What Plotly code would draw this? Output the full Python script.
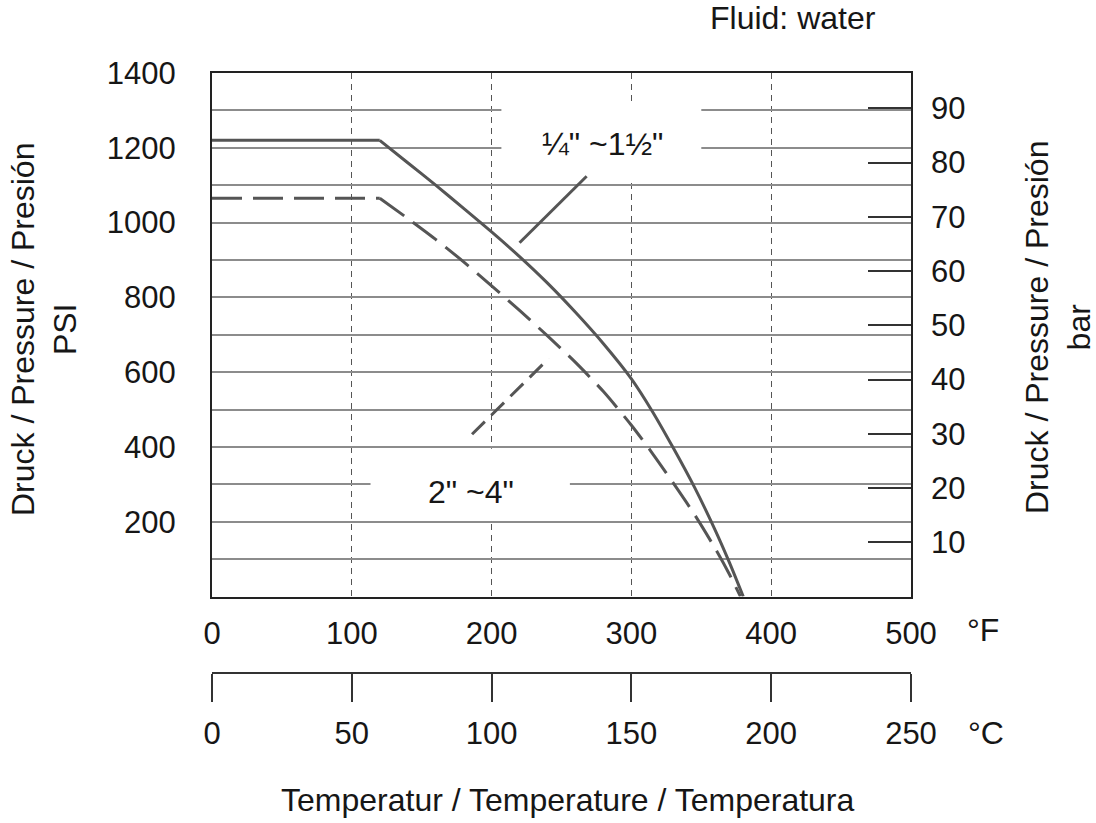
import plotly.graph_objects as go

# Pressure/temperature rating, temperature in °F, pressure in PSI
small_temp_f = [0, 120, 140, 160, 180, 200, 220, 240, 260, 280, 300, 315, 330, 345, 360, 370, 380]
small_psi = [1220, 1220, 1160, 1100, 1038, 975, 909, 838, 760, 676, 582, 495, 397, 293, 177, 92, 0]

large_temp_f = [0, 120, 140, 160, 180, 200, 220, 240, 260, 280, 300, 315, 330, 345, 360, 370, 378]
large_psi = [1065, 1065, 1011, 955, 895, 831, 765, 697, 626, 548, 458, 383, 303, 220, 128, 60, 0]

# leader lines from the size labels to the curves
small_leader_f = [220, 268]
small_leader_psi = [946, 1124]
large_leader_f = [186, 241]
large_leader_psi = [434, 637]

small_label = "¼\" ~1½\""
large_label = "2\" ~4\""
small_label_pos = (279.6, 1210)
large_label_pos = (185.6, 280)

# axis ticks
f_ticks = [0, 100, 200, 300, 400, 500]
c_ticks = [0, 50, 100, 150, 200, 250]
psi_ticks = list(range(0, 1401, 100))
psi_text = [str(v) if v % 200 == 0 and v > 0 else "" for v in psi_ticks]
bar_ticks = [10, 20, 30, 40, 50, 60, 70, 80, 90]
PSI_PER_BAR = 14.5038
PSI_MAX = 1400

FONT = "Liberation Sans, Arial, Helvetica, sans-serif"
TXT = "#161616"
CURVE = "#555555"
FS = 32
TICK_FS = 31

W, H = 1096, 823
ML, MR, MT, MB = 212, 185, 73, 150
PW = W - ML - MR
PH = H - MT - MB
PLOT_BOTTOM = 596.5


def px(x):
    return (x - ML) / PW


def py(y):
    return (H - MB - y) / PH


def rating_curve(temps, psis, dash=None):
    """Flat section drawn straight, falling section drawn as a smooth curve."""
    line = dict(color=CURVE, width=3)
    if dash:
        line["dash"] = dash
    fig.add_trace(go.Scatter(x=temps[:2], y=psis[:2], mode="lines",
                             line=line, hoverinfo="skip"))
    fig.add_trace(go.Scatter(x=temps[1:], y=psis[1:], mode="lines",
                             line=dict(line, shape="spline", smoothing=0.7),
                             hoverinfo="skip"))


fig = go.Figure()

rating_curve(small_temp_f, small_psi)
rating_curve(large_temp_f, large_psi, dash="30px,11px")

fig.add_trace(go.Scatter(x=small_leader_f, y=small_leader_psi, mode="lines",
                         line=dict(color=CURVE, width=3), hoverinfo="skip"))
fig.add_trace(go.Scatter(x=large_leader_f, y=large_leader_psi, mode="lines",
                         line=dict(color=CURVE, width=3, dash="18px,9px"),
                         hoverinfo="skip"))
# invisible traces so the secondary axes are drawn
fig.add_trace(go.Scatter(x=[0], y=[0], xaxis="x", yaxis="y2", mode="markers",
                         marker=dict(opacity=0), hoverinfo="skip"))
fig.add_trace(go.Scatter(x=[0], y=[0], xaxis="x2", yaxis="y", mode="markers",
                         marker=dict(opacity=0), hoverinfo="skip"))

tickfont = dict(family=FONT, size=TICK_FS, color=TXT)

fig.update_layout(
    width=W, height=H,
    margin=dict(l=ML, r=MR, t=MT, b=MB, pad=0),
    paper_bgcolor="white", plot_bgcolor="white",
    showlegend=False,
    font=dict(family=FONT, size=FS, color=TXT),
    xaxis=dict(
        range=[0, 500], tickvals=f_ticks, ticks="", tickfont=tickfont,
        ticklabelstandoff=8,
        showgrid=True, gridcolor="#555555", gridwidth=1, griddash="6px,5px",
        showline=True, mirror=True, linecolor="#222222", linewidth=2,
        zeroline=False, anchor="y", fixedrange=True,
    ),
    xaxis2=dict(
        range=[0, 250], tickvals=c_ticks, ticks="outside", ticklen=28,
        tickwidth=2, tickcolor="#333333", tickfont=tickfont,
        ticklabelstandoff=5,
        overlaying="x", side="bottom", anchor="free", position=0,
        showgrid=False, showline=True, linecolor="#333333", linewidth=2,
        zeroline=False, fixedrange=True,
    ),
    yaxis=dict(
        domain=[(H - MB - PLOT_BOTTOM) / PH, 1],
        range=[0, PSI_MAX], tickvals=psi_ticks, ticktext=psi_text,
        ticks="", tickfont=tickfont, ticklabelstandoff=28,
        showgrid=True, gridcolor="#8c8c8c", gridwidth=1.5,
        showline=True, mirror=True, linecolor="#222222", linewidth=2,
        zeroline=False, fixedrange=True,
    ),
    yaxis2=dict(
        range=[0, PSI_MAX / PSI_PER_BAR], tickvals=bar_ticks,
        ticks="inside", ticklen=43, tickwidth=2, tickcolor="#333333",
        tickfont=tickfont, ticklabelstandoff=19,
        overlaying="y", side="right", anchor="x",
        showgrid=False, showline=False, zeroline=False, fixedrange=True,
    ),
)

# white panels behind the size labels, between the grid and the curves
fig.add_shape(type="rect", xref="x", yref="y", x0=207, x1=350, y0=1118, y1=1314,
              fillcolor="white", line=dict(width=0), layer="between")
fig.add_shape(type="rect", xref="x", yref="y", x0=113.4, x1=256, y0=205, y1=395,
              fillcolor="white", line=dict(width=0), layer="between")


def label(x, y, text, xref="paper", yref="paper", angle=0):
    return dict(x=x, y=y, xref=xref, yref=yref, text=text, showarrow=False,
                xanchor="center", yanchor="middle", textangle=angle,
                font=dict(family=FONT, size=FS, color=TXT))


ann = [
    label(small_label_pos[0], small_label_pos[1], small_label, "x", "y"),
    label(large_label_pos[0], large_label_pos[1], large_label, "x", "y"),
    label(px(793), py(18), "Fluid: water"),
    label(px(983), py(630), "°F"),
    label(px(986), py(733), "°C"),
    label(px(568), py(800), "Temperatur / Temperature / Temperatura"),
    label(px(44), py(330), "Druck / Pressure / Presión<br>PSI", angle=-90),
    label(px(1058), py(328), "Druck / Pressure / Presión<br>bar", angle=-90),
]
fig.update_layout(annotations=ann)

fig.write_html("out.html")
